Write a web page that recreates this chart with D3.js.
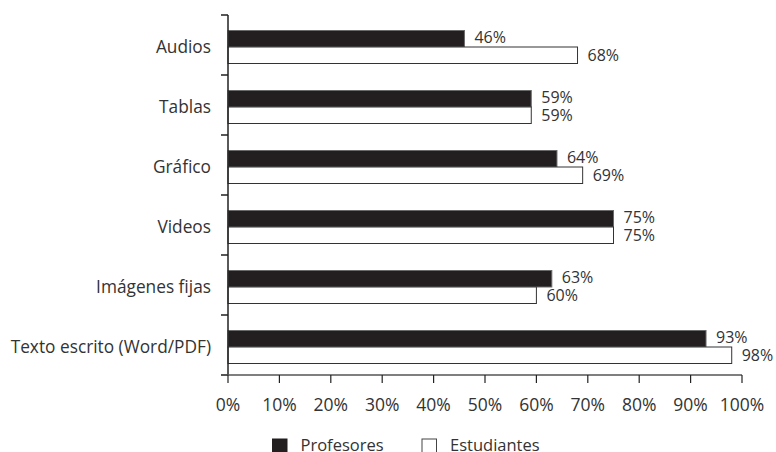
<!DOCTYPE html>
<html>
<head>
<meta charset="utf-8">
<script src="https://cdn.jsdelivr.net/npm/d3@7"></script>
<style>
  html, body { margin: 0; padding: 0; background: #fff; }
  svg text { font-family: "Open Sans", "Noto Sans", sans-serif; fill: #333; }
</style>
</head>
<body>
<svg id="chart" width="776" height="452"></svg>
<script>
const categories = ["Audios", "Tablas", "Gráfico", "Videos", "Imágenes fijas", "Texto escrito (Word/PDF)"];
const series = ["Profesores", "Estudiantes"];
const profesores = [46, 59, 64, 75, 63, 93];
const estudiantes = [68, 59, 69, 75, 60, 98];
const xTicks = [0, 10, 20, 30, 40, 50, 60, 70, 80, 90, 100];

const svg = d3.select("#chart");
const x = d3.scaleLinear().domain([0, 100]).range([228, 742]);
const y = d3.scaleBand().domain(categories).range([15, 375]).padding(0);
const inner = d3.scaleBand().domain(series).range([15.5, 48.5]).padding(0);
const fills = {Profesores: "#231f20", Estudiantes: "#ffffff"};
const strokes = {Profesores: "#6a6a6a", Estudiantes: "#333"};
const labelShift = {Profesores: -1.5, Estudiantes: 0.5};

const rows = categories.map((c, i) => ({cat: c, vals: [
  {s: "Profesores", v: profesores[i]}, {s: "Estudiantes", v: estudiantes[i]}]}));

const g = svg.append("g");
rows.forEach(r => {
  r.vals.forEach(d => {
    const yy = y(r.cat) + inner(d.s);
    g.append("rect")
      .attr("x", x(0)).attr("y", yy)
      .attr("width", x(d.v) - x(0)).attr("height", inner.bandwidth())
      .attr("fill", fills[d.s]).attr("stroke", strokes[d.s]).attr("stroke-width", 1);
    g.append("text")
      .attr("x", x(d.v) + 10).attr("y", yy + inner.bandwidth() / 2 + labelShift[d.s])
      .attr("dy", "0.35em").attr("font-size", 16)
      .text(d.v + "%");
  });
});

// Y axis
const yAxis = svg.append("g").attr("transform", `translate(${x(0)},0)`);
yAxis.append("line").attr("x1", 0).attr("x2", 0).attr("y1", 15).attr("y2", 375)
  .attr("stroke", "#222").attr("stroke-width", 1.5);
const yTicks = categories.map(c => y(c)).concat([375]);
yAxis.selectAll("line.t").data(yTicks).join("line").attr("class", "t")
  .attr("x1", -7).attr("x2", 0).attr("y1", d => d).attr("y2", d => d)
  .attr("stroke", "#222").attr("stroke-width", 1.5);
yAxis.selectAll("text").data(categories).join("text")
  .attr("x", -17).attr("y", d => y(d) + 32)
  .attr("dy", "0.35em").attr("text-anchor", "end").attr("font-size", 17.3)
  .text(d => d);

// X axis
const xAxis = svg.append("g").attr("transform", "translate(0,375)");
xAxis.append("line").attr("x1", x(0) - 7).attr("x2", x(100)).attr("y1", 0).attr("y2", 0)
  .attr("stroke", "#555").attr("stroke-width", 1.5);
xAxis.selectAll("line.t").data(xTicks).join("line").attr("class", "t")
  .attr("x1", d => x(d)).attr("x2", d => x(d)).attr("y1", 0).attr("y2", 8)
  .attr("stroke", "#222").attr("stroke-width", 1.2);
xAxis.selectAll("text").data(xTicks).join("text")
  .attr("x", d => x(d)).attr("y", 30).attr("dy", "0.35em")
  .attr("text-anchor", "middle").attr("font-size", 17.5)
  .text(d => d + "%");

// Legend
const legend = svg.append("g").attr("transform", "translate(0,439)");
const legX = [272.5, 422];
series.forEach((s, i) => {
  legend.append("rect").attr("x", legX[i]).attr("y", 0).attr("width", 14.5).attr("height", 15)
    .attr("fill", fills[s]).attr("stroke", s === "Profesores" ? "#231f20" : "#444").attr("stroke-width", 1);
  legend.append("text").attr("x", legX[i] + 28).attr("y", 12.3)
    .attr("font-size", 16.5).text(s);
});
</script>
</body>
</html>
